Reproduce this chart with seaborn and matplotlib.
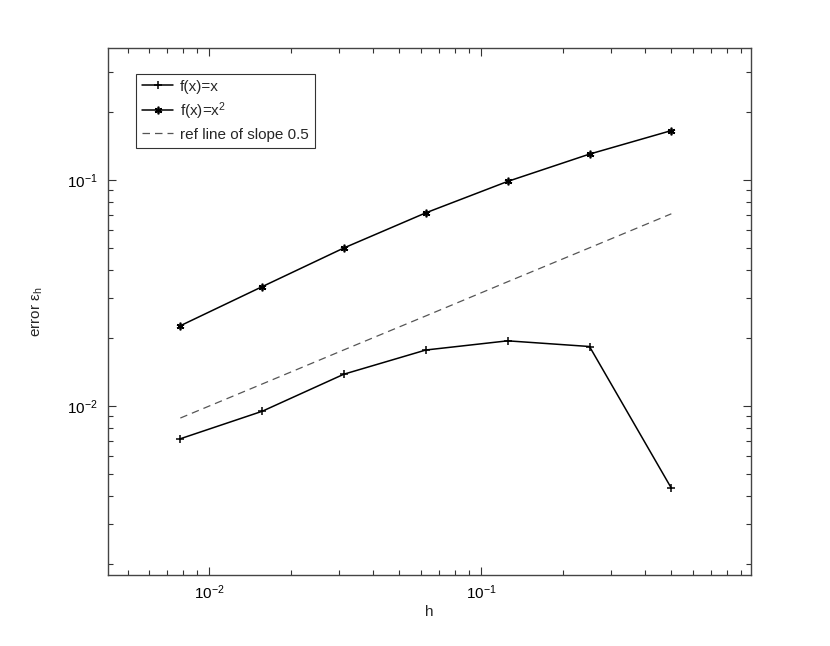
import numpy as np
import pandas as pd
import matplotlib
matplotlib.use("Agg")
import matplotlib.pyplot as plt
import seaborn as sns
from matplotlib.ticker import LogLocator, NullFormatter

h = [1/128, 1/64, 1/32, 1/16, 1/8, 1/4, 1/2]
err_x = [0.00716, 0.00947, 0.01382, 0.01767, 0.0194, 0.01831, 0.00433]
err_x2 = [0.02262, 0.03367, 0.04995, 0.0714, 0.0983, 0.1298, 0.1649]
ref = [0.00884, 0.0125, 0.0177, 0.025, 0.0354, 0.05, 0.0707]
labels = ["f(x)=x", "f(x)=x$^2$", "ref line of slope 0.5"]

sns.set_theme(style="ticks")
plt.rcParams["font.family"] = ["Liberation Sans", "DejaVu Sans"]
plt.rcParams["mathtext.fontset"] = "custom"
plt.rcParams["mathtext.rm"] = "Liberation Sans"
plt.rcParams["mathtext.it"] = "Liberation Sans:italic"
plt.rcParams["mathtext.default"] = "regular"

FS = 11

fig = plt.figure(figsize=(8.3, 6.46), dpi=100)
ax = fig.add_axes([0.13, 0.11, 0.775, 0.815])
ax.set_xscale("log")
ax.set_yscale("log")

df = pd.DataFrame({"h": h * 3,
                   "err": err_x + err_x2 + ref,
                   "series": [labels[0]] * 7 + [labels[1]] * 7 + [labels[2]] * 7})

sns.lineplot(data=df[df.series == labels[0]], x="h", y="err", ax=ax, color="black",
             lw=1.1, marker="+", markersize=6, markeredgewidth=1.1,
             markeredgecolor="black", markerfacecolor="black", label=labels[0])
sns.lineplot(data=df[df.series == labels[1]], x="h", y="err", ax=ax, color="black",
             lw=1.1, marker=(6, 2, 0), markersize=5.5, markeredgewidth=1.2,
             markeredgecolor="black", markerfacecolor="black", label=labels[1])
sns.lineplot(data=df[df.series == labels[2]], x="h", y="err", ax=ax, color="#555555",
             lw=0.9, label=labels[2])
ax.lines[-1].set_linestyle((0, (6, 4)))

ax.set_xlim(0.00423, 0.983)
ax.set_ylim(0.00179, 0.3805)

for sp in ax.spines.values():
    sp.set_visible(True)
    sp.set_color("#444444")
    sp.set_linewidth(1.0)

ax.xaxis.set_major_locator(LogLocator(base=10, numticks=10))
ax.yaxis.set_major_locator(LogLocator(base=10, numticks=10))
ax.xaxis.set_minor_locator(LogLocator(base=10, subs=np.arange(2, 10), numticks=20))
ax.yaxis.set_minor_locator(LogLocator(base=10, subs=np.arange(2, 10), numticks=20))
ax.xaxis.set_minor_formatter(NullFormatter())
ax.yaxis.set_minor_formatter(NullFormatter())
ax.tick_params(which="both", direction="in", top=True, right=True, color="#333333",
               labelsize=FS, labelcolor="black", width=0.8)
ax.tick_params(which="major", length=6)
ax.tick_params(axis="x", which="major", pad=6)
ax.tick_params(axis="y", which="major", pad=7)
ax.tick_params(which="minor", length=3.5)

ax.set_xlabel("h", fontsize=FS, labelpad=2)
ax.set_ylabel("error ε$_h$", fontsize=FS, labelpad=16)

leg = ax.legend(loc="upper left", bbox_to_anchor=(0.044, 0.952), borderaxespad=0,
                frameon=True, fancybox=False, fontsize=FS, handlelength=2.0,
                handletextpad=0.45, labelspacing=0.4, borderpad=0.4)
leg.get_frame().set_edgecolor("black")
leg.get_frame().set_linewidth(0.8)

fig.savefig("out.png", dpi=100, facecolor="white")
